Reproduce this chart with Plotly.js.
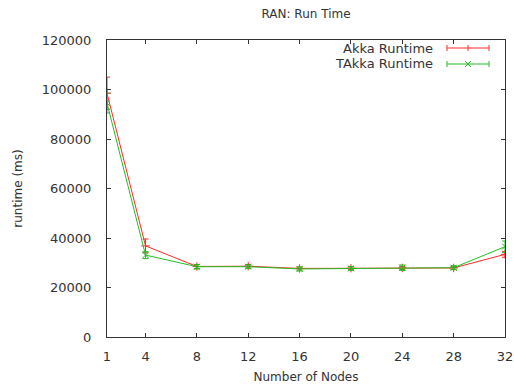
<!DOCTYPE html>
<html>
<head>
<meta charset="utf-8">
<script src="https://cdn.plot.ly/plotly-3.0.1.min.js"></script>
<style>html,body{margin:0;padding:0;background:#fff;}#chart{width:514px;height:389px;}</style>
</head>
<body>
<div id="chart"></div>
<script>
const nodes = [1, 4, 8, 12, 16, 20, 24, 28, 32];
const akkaRuntime = [98500, 36800, 28500, 28600, 27700, 27800, 27900, 27900, 33400];
const akkaError = [6500, 2800, 800, 700, 600, 600, 600, 600, 1200];
const takkaRuntime = [94500, 33100, 28400, 28400, 27500, 27700, 28000, 28000, 36500];
const takkaError = [4000, 1400, 900, 700, 800, 800, 1100, 800, 2300];
const seriesNames = ["Akka Runtime", "TAkka Runtime"];
const xTicks = [1, 4, 8, 12, 16, 20, 24, 28, 32];
const yTicks = [0, 20000, 40000, 60000, 80000, 100000, 120000];

const red = "#ff2a2a";
const green = "#22c022";
const font = {family: "DejaVu Sans, sans-serif", size: 12, color: "#333"};
const tickFont = {family: "DejaVu Sans, sans-serif", size: 13, color: "#333"};

const traces = [
  {x: nodes, y: akkaRuntime, name: seriesNames[0], type: "scatter", mode: "lines+markers",
   line: {color: red, width: 1}, marker: {symbol: "cross-thin", size: 6, line: {color: red, width: 1}, color: red},
   error_y: {type: "data", array: akkaError, visible: true, color: red, thickness: 1, width: 3}},
  {x: nodes, y: takkaRuntime, name: seriesNames[1], type: "scatter", mode: "lines+markers",
   line: {color: green, width: 1}, marker: {symbol: "x-thin", size: 6, line: {color: green, width: 1}, color: green},
   error_y: {type: "data", array: takkaError, visible: true, color: green, thickness: 1, width: 3}}
];

const L = 107, R = 505, T = 40, B = 337;
// custom gnuplot-style legend (text right-aligned, sample on the right)
const legendRows = [{y: 48, color: red, sym: "+"}, {y: 64, color: green, sym: "x"}];
const shapes = [];
const annotations = [];
const toX = p => (p - L) / (R - L), toY = p => 1 - (p - T) / (B - T);
legendRows.forEach((r, i) => {
  annotations.push({xref: "paper", yref: "paper", x: toX(435), y: toY(r.y),
    xanchor: "right", yanchor: "middle", text: seriesNames[i], showarrow: false, font: tickFont});
  const py = r.y;
  const px0 = 447, px1 = 489, pc = 468;
  shapes.push({type: "line", xref: "paper", yref: "paper", x0: toX(px0), x1: toX(px1), y0: toY(py), y1: toY(py), line: {color: r.color, width: 1}});
  shapes.push({type: "line", xref: "paper", yref: "paper", x0: toX(px0), x1: toX(px0), y0: toY(py - 3), y1: toY(py + 3), line: {color: r.color, width: 1}});
  shapes.push({type: "line", xref: "paper", yref: "paper", x0: toX(px1), x1: toX(px1), y0: toY(py - 3), y1: toY(py + 3), line: {color: r.color, width: 1}});
  if (r.sym === "+") {
    shapes.push({type: "line", xref: "paper", yref: "paper", x0: toX(pc), x1: toX(pc), y0: toY(py - 3), y1: toY(py + 3), line: {color: r.color, width: 1}});
  } else {
    shapes.push({type: "line", xref: "paper", yref: "paper", x0: toX(pc - 3), x1: toX(pc + 3), y0: toY(py - 3), y1: toY(py + 3), line: {color: r.color, width: 1}});
    shapes.push({type: "line", xref: "paper", yref: "paper", x0: toX(pc - 3), x1: toX(pc + 3), y0: toY(py + 3), y1: toY(py - 3), line: {color: r.color, width: 1}});
  }
});

const layout = {
  width: 514, height: 389,
  margin: {l: L, r: 514 - R, t: T, b: 389 - B, pad: 0},
  paper_bgcolor: "#fff", plot_bgcolor: "#fff",
  font: font,
  showlegend: false,
  title: {text: "RAN: Run Time", font: font, x: 0.5, xref: "paper", xanchor: "center", y: 1 - 14 / 389, yanchor: "middle"},
  xaxis: {range: [1, 32], tickvals: xTicks, ticktext: xTicks.map(String), ticks: "inside", ticklen: 4,
    tickcolor: "#333", showline: true, linecolor: "#333", linewidth: 1, mirror: "ticks", showgrid: false,
    zeroline: false, ticklabelstandoff: 7, ticklabeloverflow: "allow", tickfont: tickFont,
    title: {text: "Number of Nodes", font: font, standoff: 10}},
  yaxis: {range: [0, 120000], tickvals: yTicks, ticktext: yTicks.map(String), ticks: "inside", ticklen: 4,
    tickcolor: "#333", showline: true, linecolor: "#333", linewidth: 1, mirror: "ticks", showgrid: false,
    zeroline: false, ticklabelstandoff: 12, tickfont: tickFont,
    title: {text: "runtime (ms)", font: font, standoff: 16}},
  shapes: shapes,
  annotations: annotations
};

Plotly.newPlot("chart", traces, layout, {displayModeBar: false, staticPlot: true});
</script>
</body>
</html>
